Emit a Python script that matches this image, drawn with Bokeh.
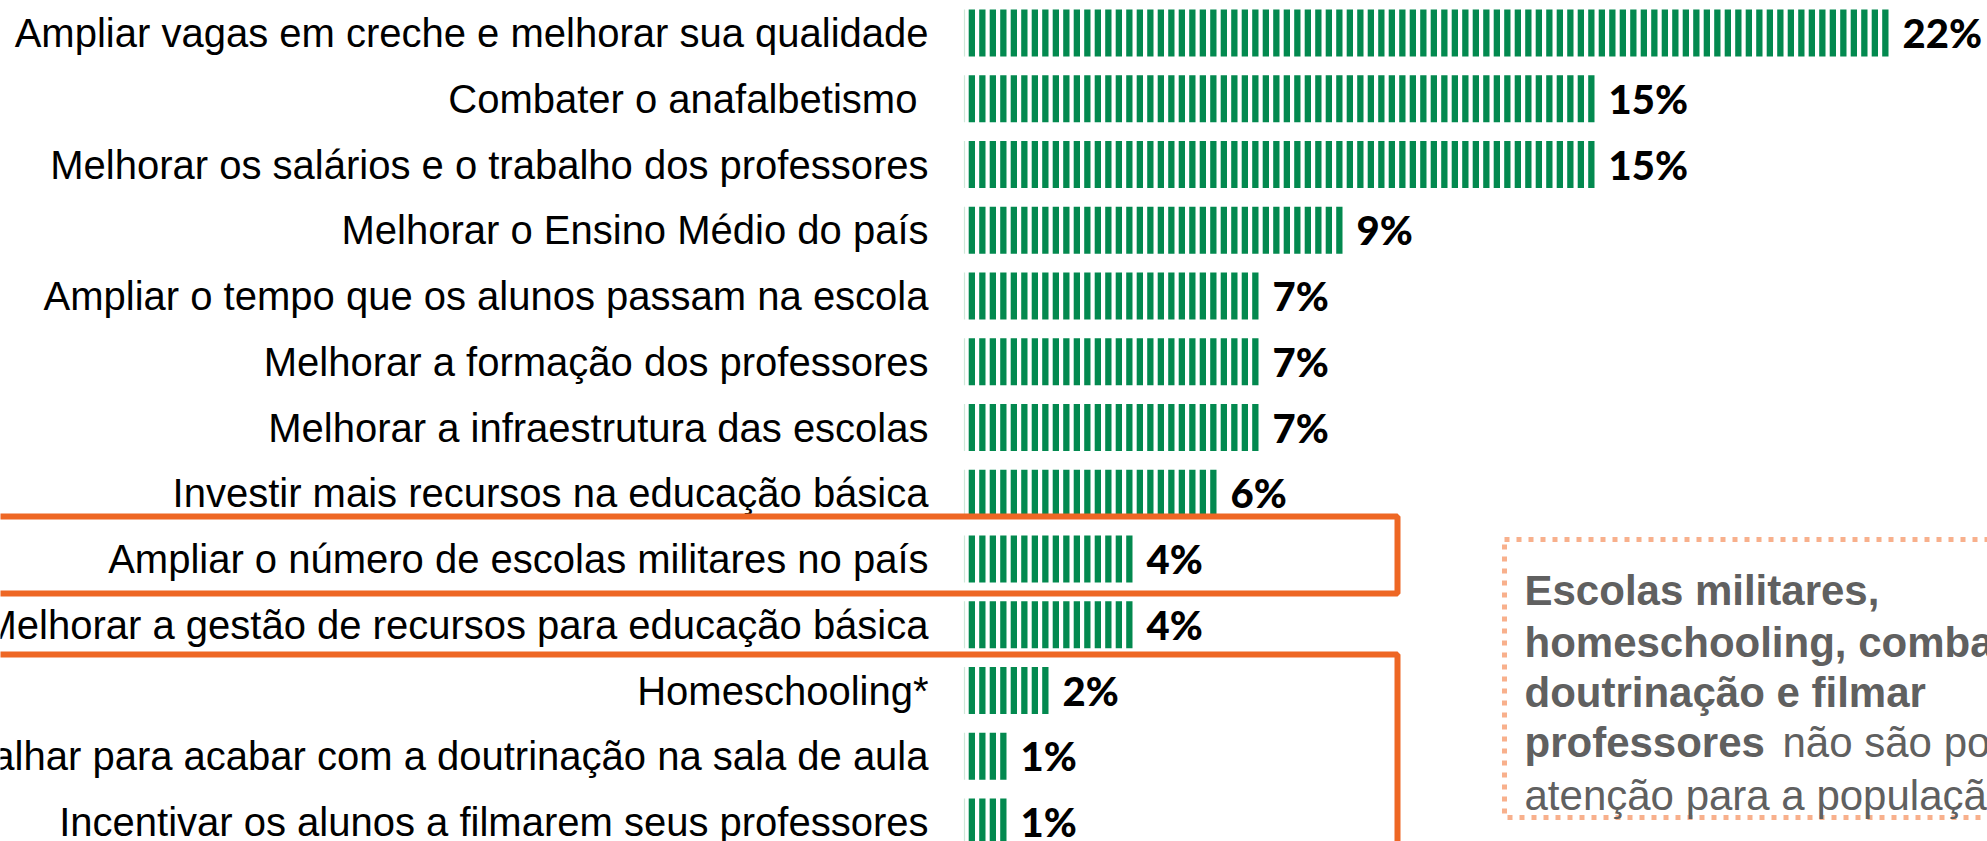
import numpy as np
from bokeh.plotting import figure
from bokeh.models import Range1d
from bokeh.core.properties import value
from bokeh.embed import file_html
from bokeh.resources import INLINE

# ---------------- data ----------------
categories = [
    "Ampliar vagas em creche e melhorar sua qualidade",
    "Combater o anafalbetismo\u00a0",
    "Melhorar os salários e o trabalho dos professores",
    "Melhorar o Ensino Médio do país",
    "Ampliar o tempo que os alunos passam na escola",
    "Melhorar a formação dos professores",
    "Melhorar a infraestrutura das escolas",
    "Investir mais recursos na educação básica",
    "Ampliar o número de escolas militares no país",
    "Melhorar a gestão de recursos para educação básica",
    "Homeschooling*",
    "Trabalhar para acabar com a doutrinação na sala de aula",
    "Incentivar os alunos a filmarem seus professores",
]
values = [22, 15, 15, 9, 7, 7, 7, 6, 4, 4, 2, 1, 1]
value_labels = [f"{v}%" for v in values]
highlight_groups = [[8], [10, 11, 12]]

note_bold_lines = ["Escolas militares,", "homeschooling, combater a", "doutrinação e filmar", "professores", ""]
note_normal_lines = ["", "", "", "não são pontos de", "atenção para a população"]

# ---------------- layout ----------------
W, H = 1987, 841
X0_PX = 964.0      # px of 0 %
PX_PER_PCT = 42.0
Y0_PX = 32.5       # px of first row centre
ROW_PX = 65.75

def px2x(px):
    return (px - X0_PX) / PX_PER_PCT

def px2y(py):
    return (py - Y0_PX) / ROW_PX

GREEN = "#03894F"
ORANGE = "#EE6724"
SALMON = "#F8B08C"
GREY = "#606060"

p = figure(width=W, height=H, title=None,
           x_range=Range1d(px2x(0), px2x(W)),
           y_range=Range1d(px2y(H), px2y(0)),
           x_axis_location=None, y_axis_location=None,
           output_backend="svg", toolbar_location=None, min_border=0)
p.grid.visible = False
p.outline_line_color = None
p.background_fill_color = "white"
p.border_fill_color = "white"

ys = np.arange(len(categories))
BAR_H = 0.715

# striped bars: 4 stripes per percentage point
s_left, s_right, s_y = [], [], []
for i, v in enumerate(values):
    for k in range(int(round(v * 4))):
        s_left.append(k * 0.25 + 0.1)
        s_right.append((k + 1) * 0.25)
        s_y.append(i)
p.hbar(y=s_y, left=s_left, right=s_right, height=BAR_H, color=GREEN, line_width=0)
p.segment(x0=[0] * len(ys), x1=[0] * len(ys), y0=ys - BAR_H / 2, y1=ys + BAR_H / 2,
          line_color="#CDE8D8", line_width=1.2)

# category labels
p.text(x=[0] * len(ys), y=ys, text=categories, x_offset=-36,
       text_align="right", text_baseline="middle",
       text_font=value("Liberation Sans"), text_font_size="40px", text_color="black")

# value labels
p.text(x=values, y=ys, text=value_labels, x_offset=14,
       text_align="left", text_baseline="middle",
       text_font=value("Lato Black, Lato"), text_font_style="bold", text_font_size="40px",
       text_color="black")

# orange highlight boxes
box_tops = [px2y(516), px2y(654)]
box_bottoms = [px2y(593), px2y(870)]
for g, t, b in zip(highlight_groups, box_tops, box_bottoms):
    p.quad(left=px2x(-60), right=px2x(1397), top=t, bottom=b,
           fill_color=None, line_color=ORANGE, line_width=6)

# dotted annotation box
p.quad(left=px2x(1504), right=px2x(W + 60), top=px2y(539), bottom=px2y(817),
       fill_color=None, line_color=SALMON, line_width=5, line_dash="5 7")

base_px = [590, 642, 692, 742, 795]
p.text(x=[px2x(1524)] * 5, y=[px2y(b) for b in base_px], text=note_bold_lines,
       text_align="left", text_baseline="alphabetic",
       text_font=value("Liberation Sans"), text_font_style="bold",
       text_font_size="42px", text_color=GREY)
p.text(x=[px2x(1782)] * 4 + [px2x(1524)],
       y=[px2y(b) for b in base_px], text=note_normal_lines,
       text_align="left", text_baseline="alphabetic",
       text_font=value("Liberation Sans"),
       text_font_size="42px", text_color=GREY)

open("out.html", "w").write(file_html(p, INLINE))
